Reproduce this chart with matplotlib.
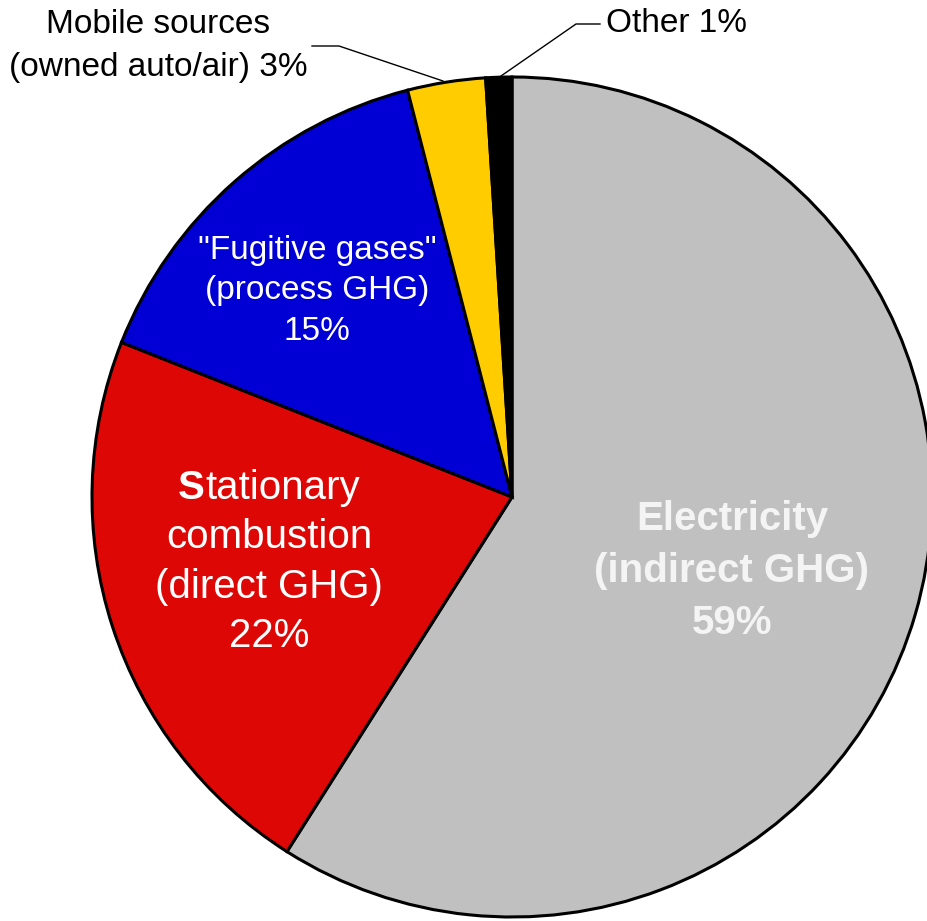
"""GHG emissions by source — pie chart."""

import matplotlib
matplotlib.use("Agg")
import matplotlib.pyplot as plt

# ---------------------------------------------------------------------------
# data
# ---------------------------------------------------------------------------
SOURCES = [
    "Electricity (indirect GHG)",
    "Stationary combustion (direct GHG)",
    '"Fugitive gases" (process GHG)',
    "Mobile sources (owned auto/air)",
    "Other",
]
SHARES = [59, 22, 15, 3, 1]
COLORS = ["#C0C0C0", "#DD0806", "#0000D4", "#FFCC00", "#000000"]

W, H = 927, 921
CX, CY, R = 512, 497, 420
FONT = "Liberation Sans"


def Y(y):
    """pixel row (top=0) -> axes y."""
    return H - y


fig = plt.figure(figsize=(W / 100, H / 100), dpi=100)
ax = fig.add_axes([0, 0, 1, 1])

ax.pie(
    SHARES,
    colors=COLORS,
    startangle=90,
    counterclock=False,
    center=(CX, Y(CY)),
    radius=R,
    frame=True,
    wedgeprops=dict(edgecolor="black", linewidth=2.2),
)
ax.set_xlim(0, W)
ax.set_ylim(0, H)
ax.set_aspect("auto")
ax.axis("off")


def lines(x, ys, texts, **kw):
    for yy, t in zip(ys, texts):
        ax.text(x, Y(yy), t, ha="center", va="center", family=FONT, **kw)


# inner labels
lines(732, [519, 571, 623], ["Electricity", "(indirect GHG)", f"{SHARES[0]}%"],
      fontsize=29, fontweight="bold", color="#F4F4F4")

# "S" bold + rest regular, built from two pieces
t_rest = ax.text(0, 0, "tationary", fontsize=29, family=FONT)
t_s = ax.text(0, 0, "S", fontsize=29, family=FONT, fontweight="bold")
fig.canvas.draw()
rend = fig.canvas.get_renderer()
w_rest = t_rest.get_window_extent(rend).width
w_s = t_s.get_window_extent(rend).width
t_rest.remove()
t_s.remove()
x0 = 269 - (w_rest + w_s) / 2
ax.text(x0, Y(488), "S", ha="left", va="center", fontsize=29,
        fontweight="bold", color="white", family=FONT)
ax.text(x0 + w_s, Y(488), "tationary", ha="left", va="center", fontsize=29,
        color="white", family=FONT)
lines(269, [537, 587, 636], ["combustion", "(direct GHG)", f"{SHARES[1]}%"],
      fontsize=29, color="white")

lines(317, [250, 291, 332], ['"Fugitive gases"', "(process GHG)", f"{SHARES[2]}%"],
      fontsize=24, color="white")

# outside labels with leader lines
lines(158, [25, 68], ["Mobile sources", f"(owned auto/air) {SHARES[3]}%"],
      fontsize=24, color="black")
ax.plot([312, 339, 443], [Y(46), Y(46), Y(81)], color="black", lw=1)

ax.text(606, Y(24), f"Other {SHARES[4]}%", ha="left", va="center",
        fontsize=24, color="black", family=FONT)
ax.plot([600, 576, 501], [Y(24), Y(24), Y(76)], color="black", lw=1)

fig.savefig("out.png", dpi=100)
